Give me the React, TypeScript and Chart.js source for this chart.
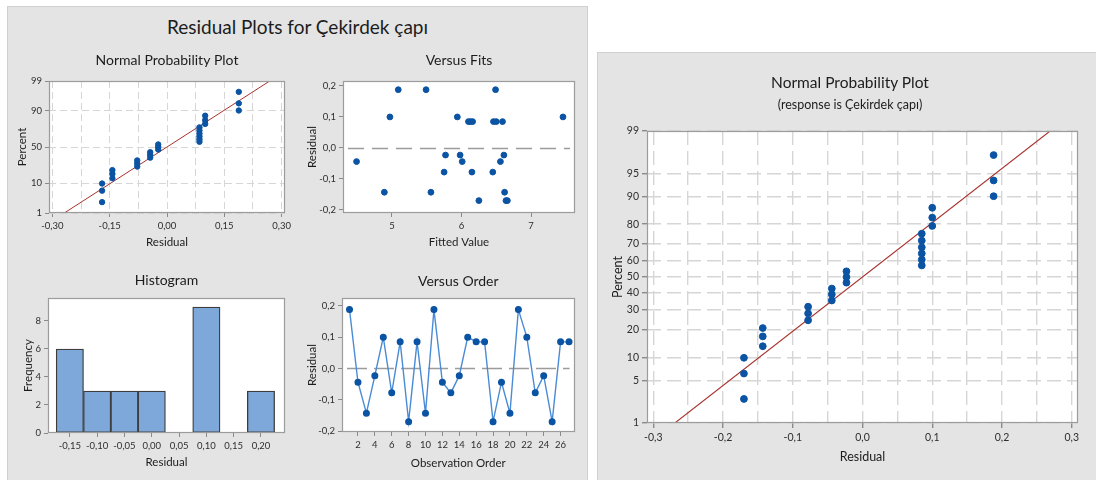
import React, { useEffect, useRef } from "react";
import { Chart, registerables } from "chart.js";
Chart.register(...registerables);

const FONT = "Lato, 'Open Sans', 'DejaVu Sans', sans-serif";

// ---------------- data ----------------
const observationOrder = [1, 2, 3, 4, 5, 6, 7, 8, 9, 10, 11, 12, 13, 14, 15, 16, 17, 18, 19, 20, 21, 22, 23, 24, 25, 26, 27];
const orderResiduals = [0.188, -0.044, -0.143, -0.023, 0.1, -0.078, 0.085, -0.17, 0.085, -0.143, 0.188, -0.044, -0.078, -0.023, 0.1, 0.085, 0.085, -0.17, -0.044, -0.143, 0.188, 0.1, -0.078, -0.023, -0.17, 0.085, 0.085];

const fittedValues = [4.49, 4.89, 4.97, 5.09, 5.49, 5.56, 5.75, 5.77, 5.94, 5.98, 6.01, 6.10, 6.13, 6.16, 6.15, 6.25, 6.45, 6.46, 6.49, 6.50, 6.56, 6.59, 6.61, 6.62, 6.64, 6.66, 7.46];
const fitResiduals = [-0.044, -0.143, 0.1, 0.188, 0.188, -0.143, -0.078, -0.023, 0.1, -0.023, -0.044, 0.085, 0.085, 0.085, -0.078, -0.17, -0.078, 0.085, 0.188, 0.085, -0.044, 0.085, -0.023, -0.143, -0.17, -0.17, 0.1];

const nppResiduals = [-0.17, -0.17, -0.17, -0.143, -0.143, -0.143, -0.078, -0.078, -0.078, -0.044, -0.044, -0.044, -0.023, -0.023, -0.023, 0.085, 0.085, 0.085, 0.085, 0.085, 0.085, 0.1, 0.1, 0.1, 0.188, 0.188, 0.188];
const nppPercents = [2.6, 6.2, 9.9, 13.5, 17.2, 20.8, 24.5, 28.1, 31.8, 35.4, 39.1, 42.7, 46.4, 50.0, 53.6, 57.3, 60.9, 64.6, 68.2, 71.9, 75.5, 79.2, 82.8, 86.5, 90.1, 93.8, 97.4];
const fitLineResidual = [-0.269, 0.269];
const fitLinePercent = [1, 99];

const histBinCenters = [-0.15, -0.1, -0.05, 0, 0.05, 0.1, 0.15, 0.2];
const histFrequencies = [6, 3, 3, 3, 0, 9, 0, 3];

// ---------------- ticks ----------------
const smallPercentTicks = [1, 10, 50, 90, 99];
const largePercentTicks = [1, 5, 10, 20, 30, 40, 50, 60, 70, 80, 90, 95, 99];
const smallResidualGrid = [-0.3, -0.225, -0.15, -0.075, 0, 0.075, 0.15, 0.225, 0.3];
const smallResidualLabels = [-0.3, -0.15, 0, 0.15, 0.3];
const largeResidualGrid = [-0.3, -0.25, -0.2, -0.15, -0.1, -0.05, 0, 0.05, 0.1, 0.15, 0.2, 0.25, 0.3];
const largeResidualLabels = [-0.3, -0.2, -0.1, 0, 0.1, 0.2, 0.3];
const residualTicks = [-0.2, -0.1, 0, 0.1, 0.2];
const fitTicks = [5, 6, 7];
const orderTicks = [2, 4, 6, 8, 10, 12, 14, 16, 18, 20, 22, 24, 26];
const freqTicks = [0, 2, 4, 6, 8];

// ---------------- style ----------------
const BLUE = "#0b53a3";
const LINEBLUE = "#4a8bd6";
const RED = "#a8322d";
const GRID = "#d6d6d6";
const FRAME = "#9c9c9c";
const TICKC = "#8a8a8a";
const TXT = "#1c1c1c";
const TICKTXT = "#2e2e2e";
const BAR = "#7ea8da";

function probit(percent: number): number {
  const p = percent / 100;
  const a = [-39.69683028665376, 220.9460984245205, -275.9285104469687, 138.357751867269, -30.66479806614716, 2.506628277459239];
  const b = [-54.47609879822406, 161.5858368580409, -155.6989798598866, 66.80131188771972, -13.28068155288572];
  const c = [-0.007784894002430293, -0.3223964580411365, -2.400758277161838, -2.549732539343734, 4.374664141464968, 2.938163982698783];
  const d = [0.007784695709041462, 0.3224671290700398, 2.445134137142996, 3.754408661907416];
  const pl = 0.02425;
  if (p < pl) {
    const q = Math.sqrt(-2 * Math.log(p));
    return (((((c[0] * q + c[1]) * q + c[2]) * q + c[3]) * q + c[4]) * q + c[5]) / ((((d[0] * q + d[1]) * q + d[2]) * q + d[3]) * q + 1);
  }
  if (p <= 1 - pl) {
    const q = p - 0.5;
    const r = q * q;
    return ((((((a[0] * r + a[1]) * r + a[2]) * r + a[3]) * r + a[4]) * r + a[5]) * q) / (((((b[0] * r + b[1]) * r + b[2]) * r + b[3]) * r + b[4]) * r + 1);
  }
  const q = Math.sqrt(-2 * Math.log(1 - p));
  return -(((((c[0] * q + c[1]) * q + c[2]) * q + c[3]) * q + c[4]) * q + c[5]) / ((((d[0] * q + d[1]) * q + d[2]) * q + d[3]) * q + 1);
}

const fmt = (v: number, dec: number) => v.toFixed(dec).replace(".", ",");
const isIn = (arr: number[], v: number) => arr.some((x) => Math.abs(x - v) < 1e-9);
const font = (size: number, weight?: string) => ({ family: FONT, size, weight: weight || "normal" });

const fixY = (w: number) => (s: any) => {
  s.width = w;
  s.paddingTop = 0; s.paddingBottom = 0; s.paddingLeft = 0; s.paddingRight = 0;
};
const fixX = (h: number) => (s: any) => {
  s.height = h;
  s.paddingTop = 0; s.paddingBottom = 0; s.paddingLeft = 0; s.paddingRight = 0;
};
const setTicks = (vals: number[]) => (s: any) => {
  s.ticks = vals.map((v) => ({ value: v }));
};

const plotFrame = {
  id: "plotFrame",
  beforeDraw(chart: any) {
    const { ctx, chartArea: a } = chart;
    ctx.save();
    ctx.fillStyle = "#ffffff";
    ctx.fillRect(a.left, a.top, a.right - a.left, a.bottom - a.top);
    ctx.restore();
  },
  afterDraw(chart: any) {
    const { ctx, chartArea: a } = chart;
    ctx.save();
    ctx.strokeStyle = FRAME;
    ctx.lineWidth = 1.2;
    ctx.strokeRect(Math.round(a.left) + 0.5, Math.round(a.top) + 0.5, Math.round(a.right - a.left) - 1, Math.round(a.bottom - a.top) - 1);
    ctx.restore();
  },
};

const zeroLine = (dash: number[]) => ({
  id: "zeroLine",
  beforeDatasetsDraw(chart: any) {
    const { ctx, chartArea: a, scales } = chart;
    const y = Math.round(scales.y.getPixelForValue(0)) + 0.5;
    ctx.save();
    ctx.strokeStyle = "#9b9b9b";
    ctx.lineWidth = 1.4;
    ctx.setLineDash(dash);
    ctx.beginPath();
    ctx.moveTo(a.left + 5, y);
    ctx.lineTo(a.right - 5, y);
    ctx.stroke();
    ctx.restore();
  },
});

const baseOptions = (title: string, tPad: { top: number; bottom: number }, tSize: number, padRight: number) => ({
  animation: false,
  responsive: false,
  maintainAspectRatio: false,
  layout: { padding: { left: 0, right: padRight, top: 0, bottom: 0 } },
  plugins: {
    legend: { display: false },
    tooltip: { enabled: false },
    title: { display: true, text: title, font: font(tSize), color: TXT, padding: tPad, fullSize: false },
  },
});

const simpleAxis = (opts: any) => {
  const { min, max, ticks, label, fixed, isX, titleText, titlePad, tickSize } = opts;
  return {
    type: "linear",
    min,
    max,
    offset: false,
    afterBuildTicks: setTicks(ticks),
    afterFit: isX ? fixX(fixed) : fixY(fixed),
    ticks: { autoSkip: false, maxRotation: 0, padding: 3, font: font(tickSize || 9.5), color: TICKTXT, callback: label },
    grid: { drawOnChartArea: false, offset: false, tickLength: 4, tickColor: TICKC, tickWidth: 1 },
    border: { display: false },
    title: { display: true, text: titleText, font: font(11.5), color: TXT, padding: titlePad },
  };
};

// ---------------- chart configs ----------------
function smallNppConfig(): any {
  return {
    type: "scatter",
    data: {
      datasets: [
        {
          type: "line",
          data: fitLineResidual.map((x, i) => ({ x, y: probit(fitLinePercent[i]) })),
          borderColor: RED,
          borderWidth: 1,
          pointRadius: 0,
          order: 2,
        },
        {
          data: nppResiduals.map((x, i) => ({ x, y: probit(nppPercents[i]) })),
          backgroundColor: BLUE,
          borderColor: BLUE,
          pointRadius: 2.7,
          order: 1,
        },
      ],
    },
    options: {
      ...baseOptions("Normal Probability Plot", { top: 7.6, bottom: 12.6 }, 14, 10),
      scales: {
        x: {
          type: "linear",
          min: -0.309,
          max: 0.309,
          afterBuildTicks: setTicks(smallResidualGrid),
          afterFit: fixX(39),
          ticks: { autoSkip: false, maxRotation: 0, padding: 3, font: font(9.5), color: TICKTXT, callback: (v: number) => (isIn(smallResidualLabels, v) ? fmt(v, 2) : "") },
          grid: {
            color: GRID,
            lineWidth: 1,
            tickLength: 4,
            tickColor: (c: any) => (c.tick && isIn(smallResidualLabels, c.tick.value) ? TICKC : "rgba(0,0,0,0)"),
          },
          border: { display: false, dash: [7, 4] },
          title: { display: true, text: "Residual", font: font(11.5), color: TXT, padding: { top: 0, bottom: 3.1 } },
        },
        y: {
          type: "linear",
          min: probit(1),
          max: probit(99),
          afterBuildTicks: (s: any) => {
            s.ticks = smallPercentTicks.map((p) => ({ value: probit(p) }));
          },
          afterFit: fixY(37),
          ticks: { autoSkip: false, padding: 3, font: font(9.5), color: TICKTXT, callback: (_v: number, i: number) => String(smallPercentTicks[i]) },
          grid: { color: GRID, lineWidth: 1, tickLength: 4, tickColor: TICKC },
          border: { display: false, dash: [7, 4] },
          title: { display: true, text: "Percent", font: font(11.5), color: TXT, padding: { top: 3.1, bottom: 0 } },
        },
      },
    },
    plugins: [plotFrame],
  };
}

function fitsConfig(): any {
  return {
    type: "scatter",
    data: {
      datasets: [
        {
          data: fittedValues.map((x, i) => ({ x, y: fitResiduals[i] })),
          backgroundColor: BLUE,
          borderColor: BLUE,
          pointRadius: 2.9,
        },
      ],
    },
    options: {
      ...baseOptions("Versus Fits", { top: 7.6, bottom: 12.6 }, 14, 5),
      scales: {
        x: simpleAxis({ min: 4.295, max: 7.633, ticks: fitTicks, label: (v: number) => String(v), fixed: 39, isX: true, titleText: "Fitted Value", titlePad: { top: 0, bottom: 3.1 } }),
        y: simpleAxis({ min: -0.21, max: 0.216, ticks: residualTicks, label: (v: number) => fmt(v, 1), fixed: 43, isX: false, titleText: "Residual", titlePad: { top: 5.1, bottom: 0 } }),
      },
    },
    plugins: [plotFrame, zeroLine([16, 8])],
  };
}

function histConfig(): any {
  return {
    type: "bar",
    data: {
      datasets: [
        {
          data: histBinCenters.map((x, i) => ({ x, y: histFrequencies[i] })),
          backgroundColor: BAR,
          borderColor: "#3d3d3d",
          borderWidth: (c: any) => (c.raw && c.raw.y > 0 ? 1.3 : 0),
          borderSkipped: false,
          barPercentage: 1,
          categoryPercentage: 1,
        },
      ],
    },
    options: {
      ...baseOptions("Histogram", { top: 9.6, bottom: 9.6 }, 14, 5),
      scales: {
        x: simpleAxis({ min: -0.19, max: 0.244, ticks: histBinCenters, label: (v: number) => fmt(v, 2), fixed: 39, isX: true, titleText: "Residual", titlePad: { top: 0, bottom: 3.1 } }),
        y: simpleAxis({ min: 0, max: 9.64, ticks: freqTicks, label: (v: number) => String(v), fixed: 36, isX: false, titleText: "Frequency", titlePad: { top: 9.1, bottom: 0 } }),
      },
    },
    plugins: [plotFrame],
  };
}

function orderConfig(): any {
  return {
    type: "line",
    data: {
      datasets: [
        {
          data: observationOrder.map((x, i) => ({ x, y: orderResiduals[i] })),
          borderColor: LINEBLUE,
          borderWidth: 1.4,
          pointRadius: 2.8,
          pointBackgroundColor: BLUE,
          pointBorderColor: BLUE,
          tension: 0,
        },
      ],
    },
    options: {
      ...baseOptions("Versus Order", { top: 10.6, bottom: 8.6 }, 14, 5),
      scales: {
        x: simpleAxis({ min: 0.11, max: 27.66, ticks: orderTicks, label: (v: number) => String(v), fixed: 41, isX: true, titleText: "Observation Order", titlePad: { top: 0, bottom: 3.1 } }),
        y: simpleAxis({ min: -0.203, max: 0.225, ticks: residualTicks, label: (v: number) => fmt(v, 1), fixed: 42, isX: false, titleText: "Residual", titlePad: { top: 5.1, bottom: 0 } }),
      },
    },
    plugins: [plotFrame, zeroLine([20, 7])],
  };
}

function largeNppConfig(): any {
  return {
    type: "scatter",
    data: {
      datasets: [
        {
          type: "line",
          data: fitLineResidual.map((x, i) => ({ x, y: probit(fitLinePercent[i]) })),
          borderColor: RED,
          borderWidth: 1.1,
          pointRadius: 0,
          order: 2,
        },
        {
          data: nppResiduals.map((x, i) => ({ x, y: probit(nppPercents[i]) })),
          backgroundColor: BLUE,
          borderColor: BLUE,
          pointRadius: 3.4,
          order: 1,
        },
      ],
    },
    options: {
      animation: false,
      responsive: false,
      maintainAspectRatio: false,
      layout: { padding: { left: 0, right: 8, top: 75, bottom: 0 } },
      plugins: {
        legend: { display: false },
        tooltip: { enabled: false },
      },
      scales: {
        x: {
          type: "linear",
          min: -0.309,
          max: 0.309,
          afterBuildTicks: setTicks(largeResidualGrid),
          afterFit: fixX(52),
          ticks: { autoSkip: false, maxRotation: 0, padding: 3, font: font(10.5), color: TICKTXT, callback: (v: number) => (isIn(largeResidualLabels, v) ? fmt(v, 1) : "") },
          grid: {
            color: GRID,
            lineWidth: 1.4,
            tickLength: 5,
            tickColor: (c: any) => (c.tick && isIn(largeResidualLabels, c.tick.value) ? TICKC : "rgba(0,0,0,0)"),
          },
          border: { display: false, dash: [14, 6] },
          title: { display: true, text: "Residual", font: font(12.5), color: TXT, padding: { top: 0, bottom: 10.5 } },
        },
        y: {
          type: "linear",
          min: probit(1),
          max: probit(99),
          afterBuildTicks: (s: any) => {
            s.ticks = largePercentTicks.map((p) => ({ value: probit(p) }));
          },
          afterFit: fixY(47),
          ticks: { autoSkip: false, padding: 3, font: font(10.5), color: TICKTXT, callback: (_v: number, i: number) => String(largePercentTicks[i]) },
          grid: { color: GRID, lineWidth: 1.4, tickLength: 5, tickColor: TICKC },
          border: { display: false, dash: [14, 6] },
          title: { display: true, text: "Percent", font: font(12.5), color: TXT, padding: { top: 10.5, bottom: 0 } },
        },
      },
    },
    plugins: [plotFrame],
  };
}

// ---------------- components ----------------
function ChartBox(props: { left: number; top: number; width: number; height: number; make: () => any }) {
  const ref = useRef<HTMLCanvasElement>(null);
  useEffect(() => {
    const chart = new Chart(ref.current as HTMLCanvasElement, props.make());
    return () => chart.destroy();
  }, []);
  return (
    <canvas
      ref={ref}
      width={props.width}
      height={props.height}
      style={{ position: "absolute", left: props.left, top: props.top, width: props.width, height: props.height }}
    />
  );
}

const panelStyle = (left: number, top: number, width: number, height: number): React.CSSProperties => ({
  position: "absolute",
  left,
  top,
  width,
  height,
  background: "#e4e4e4",
  border: "1px solid #d0d0d0",
  boxSizing: "border-box",
});

const textStyle = (left: number, top: number, width: number, size: number, lh: number): React.CSSProperties => ({
  position: "absolute",
  left,
  top,
  width,
  lineHeight: lh + "px",
  textAlign: "center",
  fontSize: size,
  color: TXT,
  fontFamily: FONT,
  whiteSpace: "nowrap",
});

export default function App() {
  return (
    <div style={{ position: "absolute", left: 0, top: 0, width: 1096, height: 480, overflow: "hidden", background: "#ffffff", fontFamily: FONT }}>
      <div style={panelStyle(7, 6, 581, 490)} />
      <div style={panelStyle(597, 52, 510, 440)} />
      <div style={textStyle(7, 15, 581, 19, 24)}>Residual Plots for Çekirdek çapı</div>
      <ChartBox left={12} top={44} width={283} height={208} make={smallNppConfig} />
      <ChartBox left={300} top={44} width={280} height={208} make={fitsConfig} />
      <ChartBox left={12} top={262} width={278} height={210} make={histConfig} />
      <ChartBox left={300} top={262} width={280} height={211} make={orderConfig} />
      <ChartBox left={600} top={56} width={486} height={419} make={largeNppConfig} />
      <div style={textStyle(700, 70, 300, 15.5, 24)}>Normal Probability Plot</div>
      <div style={textStyle(700, 96, 300, 12.5, 18)}>(response is Çekirdek çapı)</div>
    </div>
  );
}
